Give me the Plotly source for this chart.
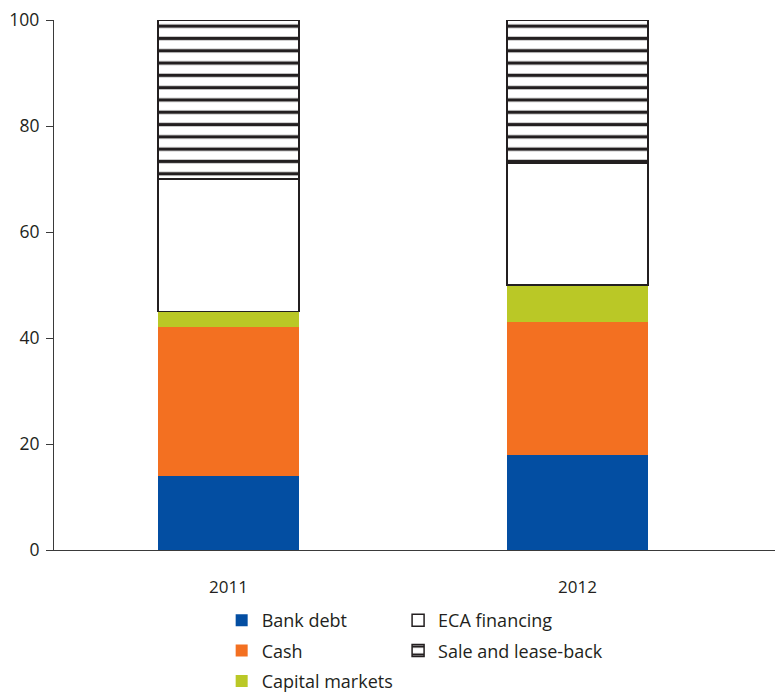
import plotly.graph_objects as go

years = ["2011", "2012"]
bank_debt = [14, 18]
cash = [28, 25]
capital_markets = [3, 7]
eca_financing = [25, 23]
sale_leaseback = [30, 27]

y_ticks = [0, 20, 40, 60, 80, 100]

FONT = "Open Sans"
TXT = "#231f20"

fig = go.Figure()

fig.add_trace(go.Bar(x=years, y=bank_debt, name="Bank debt", width=0.404,
                     marker=dict(color="#034ea2", line=dict(width=0)),
                     legend="legend", legendgroup="a", legendrank=1))
fig.add_trace(go.Bar(x=years, y=cash, name="Cash", width=0.404,
                     marker=dict(color="#f37021", line=dict(width=0)),
                     legend="legend", legendgroup="b", legendrank=2))
fig.add_trace(go.Bar(x=years, y=capital_markets, name="Capital markets", width=0.404,
                     marker=dict(color="#bac826", line=dict(width=0)),
                     legend="legend", legendgroup="c", legendrank=3))
fig.add_trace(go.Bar(x=years, y=eca_financing, name="ECA financing", width=0.404,
                     marker=dict(color="white", line=dict(width=1.5, color="#231f20")),
                     legend="legend2", legendgroup="d", legendrank=4))
fig.add_trace(go.Bar(x=years, y=sale_leaseback, name="Sale and lease-back", width=0.404,
                     marker=dict(color="white", line=dict(width=1.5, color="#231f20"),
                                 pattern=dict(shape="-", fgcolor="#231f20", bgcolor="white",
                                              size=12.3, solidity=0.27, fillmode="replace")),
                     legend="legend2", legendgroup="e", legendrank=5))

xr = [-0.5, 1.589]

fig.update_layout(
    width=783, height=697,
    margin=dict(l=46, r=8, t=12, b=155, autoexpand=False),
    barmode="stack",
    plot_bgcolor="white", paper_bgcolor="white",
    font=dict(family=FONT, size=17, color=TXT),
    xaxis=dict(type="category", range=xr, showline=True, linecolor="#3a3a3a", linewidth=1.2,
               ticks="outside", ticklen=21, tickcolor="rgba(0,0,0,0)", automargin=False,
               showgrid=False, zeroline=False, tickfont=dict(size=17, color=TXT)),
    xaxis2=dict(overlaying="x", range=xr, tickvals=[-0.5, 0.5], showticklabels=False,
                ticks="outside", ticklen=8, tickcolor="#3a3a3a", tickwidth=1.2, automargin=False,
                showgrid=False, zeroline=False, showline=False),
    yaxis=dict(range=[0, 100], tickvals=y_ticks, showline=True, linecolor="#3a3a3a",
               linewidth=1.2, ticks="outside", ticklen=7, tickcolor="#3a3a3a", tickwidth=1.2,
               automargin=False, ticklabelstandoff=3, ticklabeloverflow="allow",
               showgrid=False, zeroline=False, tickfont=dict(size=17.5, color=TXT)),
    legend=dict(x=0.230, y=-0.098, xanchor="left", yanchor="top", orientation="v",
                tracegroupgap=4, font=dict(size=18, color=TXT), bgcolor="rgba(0,0,0,0)"),
    legend2=dict(x=0.472, y=-0.098, xanchor="left", yanchor="top", orientation="v",
                 tracegroupgap=4, font=dict(size=18, color=TXT), bgcolor="rgba(0,0,0,0)"),
    showlegend=True,
)

fig.write_html("out.html")
